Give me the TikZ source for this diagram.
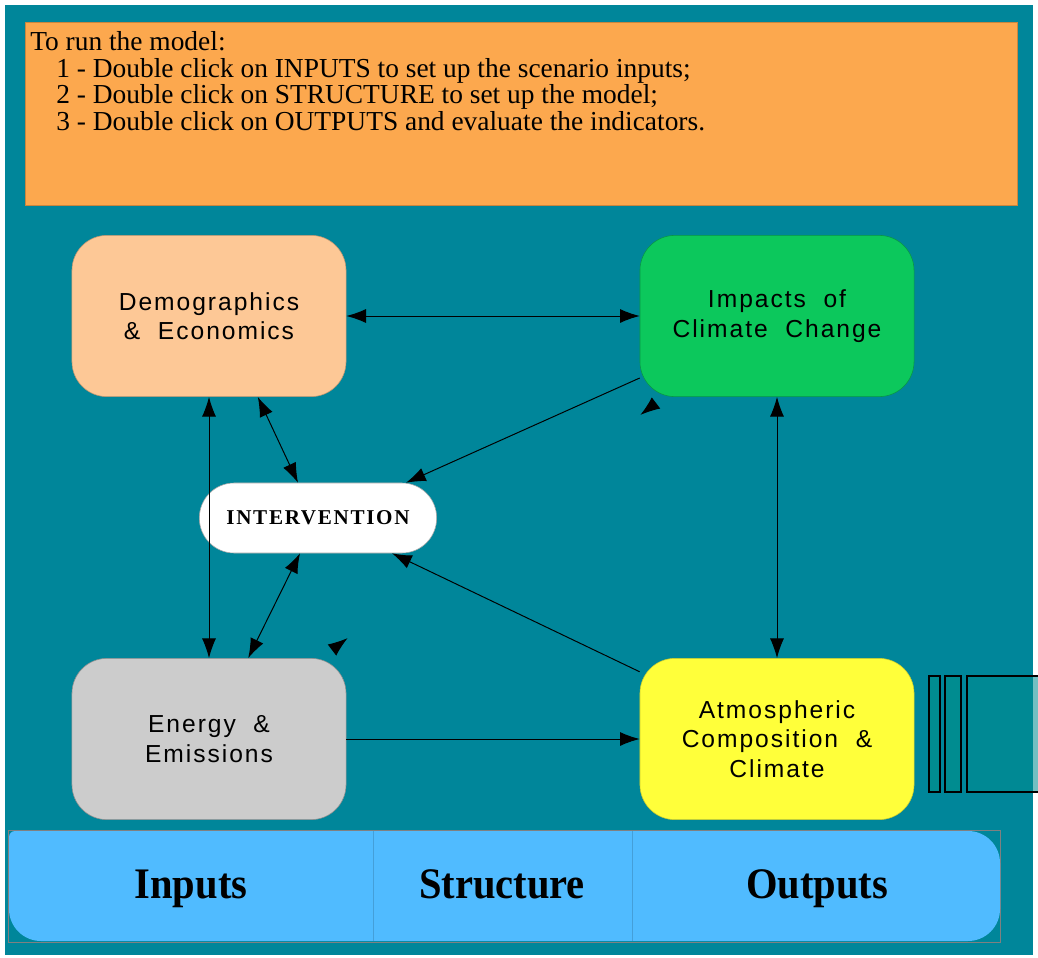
\documentclass[tikz,border=0pt]{standalone}
\usepackage{fontspec}
\setmainfont{Liberation Serif}
\newfontfamily\boxfont[LetterSpace=8]{Liberation Sans}
\newfontfamily\ivfont[LetterSpace=8]{Liberation Serif}
\newfontfamily\barfont[FakeStretch=0.93]{Liberation Serif}
\usepackage{tikz}
\usetikzlibrary{arrows.meta, positioning, calc}

\definecolor{sea}{RGB}{0,134,154}
\definecolor{sidefill}{RGB}{0,140,144}
\definecolor{panelorange}{RGB}{252,168,78}
\definecolor{peach}{RGB}{253,200,150}
\definecolor{leaf}{RGB}{12,200,92}
\definecolor{ash}{RGB}{204,204,204}
\definecolor{lemon}{RGB}{255,255,58}
\definecolor{sky}{RGB}{80,187,255}

\begin{document}
\begin{tikzpicture}[
    x=0.025cm, y=-0.025cm,
    sector/.style={rectangle, rounded corners=0.875cm, thin, minimum width=6.85cm, minimum height=4.03cm, align=center, font=\boxfont\fontsize{17.5}{21}\selectfont},
    pill/.style={rectangle, rounded corners=0.87cm, draw=gray!70, fill=white, thin, minimum width=5.93cm, minimum height=1.75cm, font=\ivfont\bfseries\fontsize{15}{18}\selectfont},
    barcell/.style={rectangle, minimum height=2.75cm, font=\barfont\bfseries\fontsize{31}{36}\selectfont},
    barlabel/.style={anchor=base, inner sep=0pt, font=\barfont\bfseries\fontsize{31}{36}\selectfont},
    link/.style={line width=0.7pt, {Latex[length=14pt,width=10pt]}-{Latex[length=14pt,width=10pt]}},
    oneway/.style={line width=0.7pt, -{Latex[length=14pt,width=10pt]}},
    tipsonly/.style={line width=0.7pt, dash pattern=on 0pt off 40cm, {Latex[length=14pt,width=10pt,reversed]}-{Latex[length=14pt,width=10pt,reversed]}}
]
\useasboundingbox (0,0) rectangle (1038,958);
\fill[white] (0,0) rectangle (1038,958);
\fill[sea] (5,5) rectangle (1033,955);

% Instructions
\node[rectangle, fill=panelorange, draw=panelorange!80!black, very thin, minimum width=24.8cm, minimum height=4.58cm] (panel) at (521,114) {};
\node[anchor=north west, align=left, inner sep=0pt, font=\fontsize{19.5}{19}\selectfont] (howto) at (30,31)
  {To run the model:\\
   \hspace*{0.65cm}1 - Double click on INPUTS to set up the scenario inputs;\\
   \hspace*{0.65cm}2 - Double click on STRUCTURE to set up the model;\\
   \hspace*{0.65cm}3 - Double click on OUTPUTS and evaluate the indicators.};

% Sectors
\node[sector, fill=peach, draw=peach!75!black] (dem) at (209,316) {Demographics\\\&\ \ Economics};
\node[sector, fill=leaf, draw=leaf!75!black] (imp) at (777,316) {Impacts\ \ of\\Climate\ \ Change};
\node[sector, fill=ash, draw=ash!70!black] (en) at (209,739) {Energy\ \ \&\\Emissions};
\node[sector, fill=lemon, draw=lemon!80!black] (atm) at (777,739) {Atmospheric\\Composition\ \ \&\\Climate};
\node[pill] (iv) at (318,518) {INTERVENTION};

% Links between sectors
\draw[link] (dem.east) -- (imp.west);
\draw[link] (dem.south) -- (en.north);
\draw[link] (imp.south) -- (atm.north);
\draw[link] ([xshift=1.22cm]dem.south) -- ([xshift=-0.5cm]iv.north);
\draw[link] ([xshift=-0.45cm]iv.south) -- ([xshift=0.98cm]en.north);
\draw[oneway] ([yshift=-1.55cm]imp.west) -- ([xshift=2.2cm]iv.north);
\draw[oneway] ([yshift=1.68cm]atm.west) -- ([xshift=1.85cm]iv.south);
\draw[oneway] (en.east) -- (atm.west);

% Loose tips between energy and impacts
\coordinate (tipA) at (332,650);
\coordinate (tipB) at (656,403);
\draw[tipsonly] (tipA) -- (tipB);

% Side blocks
\draw[line width=1pt, fill=sidefill] (929,676) rectangle (940,792);
\draw[line width=1pt, fill=sidefill] (945,676) rectangle (961,792);
\draw[line width=1pt, fill=sidefill, fill opacity=0.55] (967,676) rectangle (1045,792);

% Bottom bar
\draw[gray, thin] (8,830) rectangle (1000,942);
\fill[sky, rounded corners=0.8cm] (9,831) -- (9,941) -- (1000,941) -- (1000,831) -- cycle;
\fill[sky, rounded corners=0.15cm] (9,831) rectangle (60,870);
\node[barcell, minimum width=9.1cm] (inputs) at (190.5,886) {};
\node[barcell, minimum width=6.47cm] (structure) at (502.5,886) {};
\node[barcell, minimum width=9.2cm] (outputs) at (816,886) {};
\node[barlabel] (inputstext) at (191,898) {Inputs};
\node[barlabel] (structuretext) at (502,898) {Structure};
\node[barlabel] (outputstext) at (817,898) {Outputs};
\draw[sky!85!black, very thin] (inputs.north east) -- (inputs.south east);
\draw[sky!85!black, very thin] (structure.north east) -- (structure.south east);

\end{tikzpicture}
\end{document}
